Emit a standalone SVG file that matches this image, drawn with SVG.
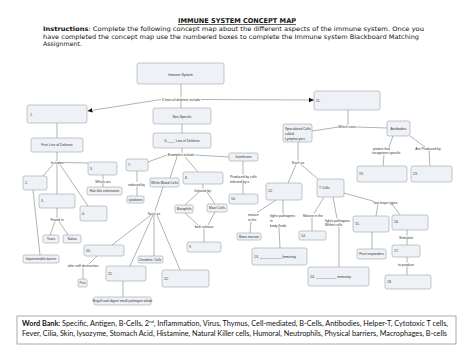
<svg xmlns="http://www.w3.org/2000/svg" width="474" height="364" viewBox="0 0 474 364">
<style>
.bx{fill:#eef2f6;stroke:#9aa1aa;stroke-width:0.6}
.t{font-family:"Liberation Sans",Arial,sans-serif;font-size:3.4px;fill:#333}
.m{text-anchor:middle}
.c{stroke:#666;stroke-width:0.5;fill:none}
.hd{font-family:"DejaVu Sans",Verdana,sans-serif;fill:#111}
.wb{font-family:"Lato","Liberation Sans",sans-serif;font-size:7.2px;fill:#111}
</style>
<defs>
<marker id="ah" markerWidth="6" markerHeight="6" refX="5" refY="3" orient="auto" markerUnits="userSpaceOnUse"><path d="M0,0.8 L5,3 L0,5.2 Z" fill="#111"/></marker>
</defs>
<rect width="474" height="364" fill="#fff"/>
<g id="header">
<text class="hd" x="237" y="23" text-anchor="middle" font-weight="bold" font-size="6.6" text-decoration="underline" textLength="118" lengthAdjust="spacingAndGlyphs">IMMUNE SYSTEM CONCEPT MAP</text>
<text class="hd" x="43" y="31" font-size="6.2" textLength="381" lengthAdjust="spacingAndGlyphs"><tspan font-weight="bold">Instructions</tspan>:  Complete the following concept map about the different aspects of the immune system.  Once you</text>
<text class="hd" x="43" y="38.5" font-size="6.2" textLength="376" lengthAdjust="spacingAndGlyphs">have completed the concept map use the numbered boxes to complete the Immune system Blackboard Matching</text>
<text class="hd" x="43" y="46" font-size="6.2" textLength="39" lengthAdjust="spacingAndGlyphs">Assignment.</text>
</g>
<g id="connectors">
<path class="c" d="M181,84 V97"/>
<path class="c" d="M161,99.5 L87.5,111" marker-end="url(#ah)"/>
<path class="c" d="M201,99.5 L314,100" marker-end="url(#ah)"/>
<path class="c" d="M181,101 V108"/>
<path class="c" d="M182,124 V133"/>
<path class="c" d="M182,148 V153"/>
<path class="c" d="M195,155 L229,157"/>
<path class="c" d="M167,155 L148,162"/>
<path class="c" d="M177,157 L170,178"/>
<path class="c" d="M185,157 L198,172"/>
<path class="c" d="M57,123 V138"/>
<path class="c" d="M57,152 V161"/>
<path class="c" d="M63,162.5 L88,163"/>
<path class="c" d="M53,164.5 L43,176"/>
<path class="c" d="M57,164.5 V194"/>
<path class="c" d="M60,164.5 L88,206"/>
<path class="c" d="M103,175 V179.5"/>
<path class="c" d="M103,183 V187"/>
<path class="c" d="M137,171 V182"/>
<path class="c" d="M137,186.5 V196"/>
<path class="c" d="M33,190 L40,255"/>
<path class="c" d="M57,208 V218"/>
<path class="c" d="M55,221.5 L50,235"/>
<path class="c" d="M59,221.5 L68,235"/>
<path class="c" d="M243,161 V174.5"/>
<path class="c" d="M243,183 V194"/>
<path class="c" d="M203,184 V188.5"/>
<path class="c" d="M199,192 L185,205"/>
<path class="c" d="M207,192 L215,204"/>
<path class="c" d="M185,213 L198,225"/>
<path class="c" d="M215,212 L208,225"/>
<path class="c" d="M204,228.5 V242"/>
<path class="c" d="M163,187 L155,211"/>
<path class="c" d="M151,215 L112,245"/>
<path class="c" d="M153,215 L130,266"/>
<path class="c" d="M154,215 V256"/>
<path class="c" d="M157,215 L180,270"/>
<path class="c" d="M97,256 L89,264"/>
<path class="c" d="M83,268 V279"/>
<path class="c" d="M123,281 V297"/>
<path class="c" d="M298,142 V160.5"/>
<path class="c" d="M348,110 V125"/>
<path class="c" d="M338.5,127 L312,131"/>
<path class="c" d="M356,127 L387,128"/>
<path class="c" d="M393,136 L389,147"/>
<path class="c" d="M410,136 L425,147"/>
<path class="c" d="M384,155 L383,166"/>
<path class="c" d="M429,150.5 L430,166"/>
<path class="c" d="M296,164.5 L288,183"/>
<path class="c" d="M301,164.5 L318,179"/>
<path class="c" d="M276,200 L257,212.5"/>
<path class="c" d="M251,221.5 L250,233"/>
<path class="c" d="M283,200 V213.5"/>
<path class="c" d="M279,227.5 L280,248"/>
<path class="c" d="M344,193 L373,201"/>
<path class="c" d="M378,204 L376,216"/>
<path class="c" d="M392,204 L400,215"/>
<path class="c" d="M324,197 L314,213.5"/>
<path class="c" d="M312,217.5 V231"/>
<path class="c" d="M333,197 L337,218.5"/>
<path class="c" d="M339,227 V267"/>
<path class="c" d="M372,232 V249"/>
<path class="c" d="M407,230 V235.5"/>
<path class="c" d="M407,239 V245"/>
<path class="c" d="M407,257 V262.5"/>
<path class="c" d="M407,266.5 V275"/>
</g>
<g id="labels">
<text class="t m" x="181" y="100.5">3 lines of defense include</text>
<text class="t m" x="347" y="128">Which uses</text>
<text class="t" x="373" y="149.5">protein that</text>
<text class="t" x="372" y="154">recognizes specific</text>
<text class="t m" x="428" y="149.5">Are Produced by</text>
<text class="t m" x="181" y="156">Examples include</text>
<text class="t m" x="57" y="163.5">Includes</text>
<text class="t m" x="103" y="182.5">Which are</text>
<text class="t m" x="136.5" y="185.5">reduced by</text>
<text class="t" x="230" y="178">Produced by cells</text>
<text class="t" x="230" y="182.5">infected by a</text>
<text class="t m" x="203" y="191.5">Initiated by:</text>
<text class="t m" x="204" y="227.5">both release</text>
<text class="t m" x="298" y="163.5">Such as</text>
<text class="t m" x="154" y="214.5">Such as</text>
<text class="t m" x="57" y="221">Found in</text>
<text class="t" x="248" y="215.5">mature</text>
<text class="t" x="248" y="220.5">in the</text>
<text class="t" x="270" y="216.5">fights pathogens</text>
<text class="t" x="270" y="221.5">in</text>
<text class="t" x="270" y="226.5">body fluids</text>
<text class="t" x="303" y="216.5">Mature in the</text>
<text class="t" x="325" y="221.5">fights pathogens</text>
<text class="t" x="325" y="226">Within cells</text>
<text class="t m" x="385" y="203.5">Two major types</text>
<text class="t m" x="406" y="238.5">Stimulate</text>
<text class="t m" x="406" y="265.5">to produce</text>
<text class="t m" x="83" y="267">after self destruction</text>
</g>
<g id="immune"><rect class="bx" x="137" y="63" width="87" height="21" rx="2"/><text class="t m" x="180.5" y="75.5" font-size="4.8">Immune System</text></g>
<g id="n1"><rect class="bx" x="27" y="105" width="60" height="18" rx="2"/><text class="t" x="30" y="115.5">1.</text></g>
<g id="first-line"><rect class="bx" x="31" y="138" width="52" height="14" rx="2"/><text class="t m" x="57" y="146.2">First Line of Defense</text></g>
<g id="n11"><rect class="bx" x="314" y="91" width="66" height="19" rx="2"/><text class="t" x="316" y="102">11.</text></g>
<g id="non-specific"><rect class="bx" x="153" y="108" width="58" height="16" rx="2"/><text class="t m" x="182" y="117.5">Non-Specific</text></g>
<g id="n6"><rect class="bx" x="153" y="133" width="58" height="15" rx="2"/><text class="t m" x="182" y="141.5">6.____ Line of Defense</text></g>
<g id="lymphocytes"><rect class="bx" x="283" y="124" width="29" height="18" rx="2"/><text class="t" x="285" y="129.5">Specialized Cells</text><text class="t" x="285" y="134.5">called</text><text class="t" x="285" y="139.5">Lymphocytes</text></g>
<g id="antibodies"><rect class="bx" x="387" y="121" width="23" height="15" rx="2"/><text class="t m" x="398.5" y="129.8">Antibodies</text></g>
<g id="interferons"><rect class="bx" x="229" y="153" width="29" height="8" rx="1.5"/><text class="t m" x="243.5" y="158.2">Interferons</text></g>
<g id="n5"><rect class="bx" x="88" y="162" width="29" height="13" rx="2"/><text class="t" x="90" y="169.5">5.</text></g>
<g id="n7"><rect class="bx" x="126" y="159" width="22" height="12" rx="2"/><text class="t" x="128" y="166">7.</text></g>
<g id="n2"><rect class="bx" x="23" y="176" width="24" height="14" rx="2"/><text class="t" x="25" y="184">2.</text></g>
<g id="n3"><rect class="bx" x="39" y="194" width="36" height="14" rx="2"/><text class="t" x="41" y="202">3.</text></g>
<g id="n4"><rect class="bx" x="80" y="206" width="27" height="15" rx="2"/><text class="t" x="82" y="214.5">4.</text></g>
<g id="wbc"><rect class="bx" x="150" y="178" width="29" height="9" rx="1.5"/><text class="t m" x="164.5" y="183.7" font-size="3.2">White Blood Cells</text></g>
<g id="n8"><rect class="bx" x="183" y="172" width="40" height="12" rx="2"/><text class="t" x="185" y="179">8.</text></g>
<g id="n10"><rect class="bx" x="229" y="194" width="29" height="10" rx="2"/><text class="t" x="231" y="200.2">10.</text></g>
<g id="hair"><rect class="bx" x="87" y="187" width="35" height="8" rx="1.5"/><text class="t m" x="104.5" y="192.2">Hair-like extensions</text></g>
<g id="cytokines"><rect class="bx" x="127" y="196" width="17" height="7" rx="1.5"/><text class="t m" x="135.5" y="200.7">cytokines</text></g>
<g id="basophils"><rect class="bx" x="175" y="205" width="18" height="8" rx="1.5"/><text class="t m" x="184" y="210.2">Basophils</text></g>
<g id="mast"><rect class="bx" x="207" y="204" width="20" height="8" rx="1.5"/><text class="t m" x="217" y="209.2">Mast Cells</text></g>
<g id="n12"><rect class="bx" x="266" y="183" width="36" height="17" rx="2"/><text class="t" x="268" y="192">12.</text></g>
<g id="tcells"><rect class="bx" x="317" y="179" width="27" height="18" rx="2"/><text class="t" x="319" y="189">T Cells</text></g>
<g id="n19"><rect class="bx" x="357" y="166" width="50" height="16" rx="2"/><text class="t" x="359" y="175">19.</text></g>
<g id="n23"><rect class="bx" x="411" y="166" width="41" height="16" rx="2"/><text class="t" x="413" y="175">23.</text></g>
<g id="n15"><rect class="bx" x="353" y="216" width="36" height="16" rx="2"/><text class="t" x="355" y="225">15.</text></g>
<g id="n16"><rect class="bx" x="392" y="215" width="36" height="15" rx="2"/><text class="t" x="394" y="223">16.</text></g>
<g id="n14"><rect class="bx" x="299" y="231" width="27" height="9" rx="1.5"/><text class="t" x="301" y="236.8">14.</text></g>
<g id="bone"><rect class="bx" x="237" y="233" width="24" height="7" rx="1.5"/><text class="t m" x="249" y="237.7">Bone marrow</text></g>
<g id="tears"><rect class="bx" x="43" y="235" width="16" height="8" rx="1.5"/><text class="t m" x="51" y="240.2">Tears</text></g>
<g id="saliva"><rect class="bx" x="63" y="235" width="18" height="8" rx="1.5"/><text class="t m" x="72" y="240.2">Saliva</text></g>
<g id="n9"><rect class="bx" x="187" y="242" width="34" height="10" rx="2"/><text class="t" x="189" y="248.2">9.</text></g>
<g id="n20"><rect class="bx" x="84" y="245" width="40" height="11" rx="2"/><text class="t" x="86" y="251.8">20.</text></g>
<g id="n13"><rect class="bx" x="252" y="248" width="55" height="17" rx="2"/><text class="t" x="254" y="258">13. ____________Immunity</text></g>
<g id="first-responders"><rect class="bx" x="357" y="249" width="29" height="10" rx="1.5"/><text class="t m" x="371.5" y="255.2">First responders</text></g>
<g id="n17"><rect class="bx" x="392" y="245" width="28" height="12" rx="2"/><text class="t" x="394" y="252">17.</text></g>
<g id="impenetrable"><rect class="bx" x="23" y="255" width="36" height="8" rx="1.5"/><text class="t m" x="41" y="260.2">Impenetrable barrier</text></g>
<g id="dendritic"><rect class="bx" x="138" y="256" width="25" height="7" rx="1.5"/><text class="t m" x="150.5" y="260.7">Dendritic Cells</text></g>
<g id="n21"><rect class="bx" x="106" y="266" width="40" height="15" rx="2"/><text class="t" x="108" y="275">21.</text></g>
<g id="n22"><rect class="bx" x="162" y="270" width="47" height="17" rx="2"/><text class="t" x="164" y="279.5">22.</text></g>
<g id="n24"><rect class="bx" x="308" y="267" width="61" height="19" rx="2"/><text class="t" x="310" y="277.8">24. ___________ immunity</text></g>
<g id="pus"><rect class="bx" x="78" y="279" width="9" height="8" rx="1.5"/><text class="t m" x="82.5" y="284.2">Pus</text></g>
<g id="n18"><rect class="bx" x="385" y="275" width="46" height="14" rx="2"/><text class="t" x="387" y="283">18.</text></g>
<g id="engulf"><rect class="bx" x="94" y="297" width="57" height="8" rx="1.5"/><text class="t m" x="122.5" y="302.1" font-size="2.9">Engulf and digest small pathogen whole</text></g>
<g id="word-bank">
<rect x="17" y="316" width="439" height="28" fill="#fff" stroke="#888" stroke-width="0.7"/>
<text class="wb" x="22" y="325.5" textLength="426" lengthAdjust="spacingAndGlyphs"><tspan font-weight="bold">Word Bank:</tspan> Specific, Antigen, B-Cells, 2<tspan font-size="4.2" dy="-2.5">nd</tspan><tspan dy="2.5">, Inflammation, Virus, Thymus, Cell-mediated, B-Cells, Antibodies, Helper-T, Cytotoxic T cells,</tspan></text>
<text class="wb" x="22" y="335.5" textLength="425" lengthAdjust="spacingAndGlyphs">Fever, Cilia, Skin, lysozyme, Stomach Acid, Histamine, Natural Killer cells, Humoral, Neutrophils, Physical barriers, Macrophages, B-cells</text>
</g>
</svg>
